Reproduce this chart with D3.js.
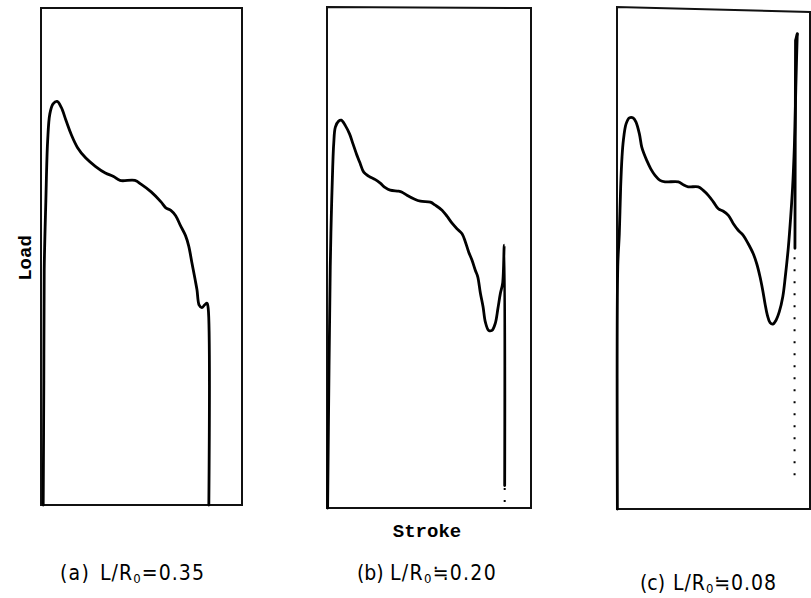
<!DOCTYPE html>
<html><head><meta charset="utf-8">
<script src="https://cdn.jsdelivr.net/npm/d3@7"></script>
<style>body{margin:0;background:#fff}svg{display:block}
.cap{font-family:'DejaVu Sans Condensed','DejaVu Sans',sans-serif;font-stretch:condensed;}
</style>
</head><body>
<svg id="chart" width="811" height="598"></svg>
<script>
// ---- data (stroke and load in % of each panel's full scale) ----
const panelIds = ["(a)", "(b)", "(c)"];
const ratioSigns = ["=", "≒", "≒"];
const ratioValues = ["0.35", "0.20", "0.08"];
const xLabel = "Stroke";
const yLabel = "Load";

const strokeA = [1.1,1.4,1.6,2.4,3.3,4.4,6.0,8.0,10.1,12.5,15.0,18.2,22.3,27.2,32.0,36.1,39.3,46.7,49.9,54.8,59.7,62.1,64.6,67.0,69.4,71.9,73.5,75.1,76.7,77.6,78.7,80.0,81.5,82.6,83.2,83.5];
const loadA   = [0,25,47.3,61.0,73.2,78.7,80.7,81.2,80.0,77.3,74.6,71.9,69.8,68.1,66.8,66.1,65.3,65.3,64.5,63.0,61.0,59.8,59.3,58.2,56.2,54.2,52.1,48.7,45.3,43.3,40.2,39.7,40.3,40.6,39.5,0];

const strokeB = [0.3,1.0,1.6,2.1,2.8,3.3,4.1,5.7,7.0,9.0,11.1,12.7,14.4,16.3,18.0,20.4,23.7,26.1,28.6,31.0,35.1,36.8,39.2,42.5,45.8,50.7,53.1,56.4,58.8,61.3,63.7,66.2,67.8,69.4,71.1,72.7,73.9,75.2,76.5,77.6,79.2,80.9,82.5,83.8,85.0,86.1,86.9,87.1];
const loadB   = [0,28.2,48.2,58.1,68.1,72.8,76.1,77.3,77.5,76.4,74.7,72.8,70.8,68.8,67.1,66.3,65.6,64.9,64.0,63.5,63.3,63.1,62.5,61.8,61.3,61.1,60.5,59.5,58.3,56.9,55.8,54.8,53.2,51.2,49.5,47.5,46.2,42.9,40.2,37.2,35.5,35.5,36.9,39.9,42.9,44.9,52.5,4.5];
const tailStrokeB = [87.1, 87.1];
const tailLoadB   = [4.0, 0];

const strokeC = [0.2,0.4,1.2,1.9,2.6,3.3,4.7,6.4,8.4,9.8,11.6,12.8,14.0,15.4,17.5,19.7,22.3,24.9,31.8,34.4,36.9,42.1,44.7,47.3,49.9,52.5,55.1,57.7,60.3,62.8,65.4,68.0,70.6,72.4,74.1,75.5,76.7,77.9,79.3,80.7,82.4,84.1,85.9,87.2,88.8,90.0,91.0,91.7,92.2,92.7,93.4];
const loadC   = [0,48.5,55.1,64.5,70.5,73.8,77.1,78.3,78.3,77.5,75.1,72.5,71.1,69.8,68.1,66.8,65.8,65.5,65.5,64.9,64.5,64.5,63.8,62.8,61.5,60.1,59.6,58.8,57.1,55.8,54.8,53.1,51.1,49.1,46.5,43.8,41.1,38.8,37.3,37.0,37.8,39.5,42.5,46.5,52.5,58.5,64.5,70.5,76.5,85.1,95.1];
const dropStrokeC = [93.4, 92.5, 92.2];
const dropLoadC   = [95.1, 93.8, 52.2];
const dotStrokeC  = [92.0, 92.0];
const dotLoadC    = [50.4, 5.8];

// ---- layout ----
const frames = [
  {x0: 41,  x1: 242, yl: 8, yr: 8, y1: 505},
  {x0: 327, x1: 531, yl: 7, yr: 8, y1: 508},
  {x0: 617, x1: 810, yl: 7, yr: 12, y1: 509}
];
const labelPos = [
  {idX: 60,  idEnd: 90,  ratX: 100, ratEnd: 205, y: 580},
  {idX: 357, idEnd: 383, ratX: 390, ratEnd: 497, y: 580},
  {idX: 640, idEnd: 664, ratX: 673, ratEnd: 777, y: 590}
];

const svg = d3.select("#chart");
const zip = (xs, ys) => xs.map((v, i) => [v, ys[i]]);
const series = [
  {main: zip(strokeA, loadA), extra: [], dotted: []},
  {main: zip(strokeB, loadB), extra: [], dotted: [zip(tailStrokeB, tailLoadB)]},
  {main: zip(strokeC, loadC), extra: [zip(dropStrokeC, dropLoadC)], dotted: [zip(dotStrokeC, dotLoadC)]}
];

frames.forEach((f, i) => {
  const top = (f.yl + f.yr) / 2;
  const x = d3.scaleLinear().domain([0, 100]).range([f.x0, f.x1]);
  const y = d3.scaleLinear().domain([0, 100]).range([f.y1, top]);
  const g = svg.append("g");
  g.append("path")
    .attr("d", `M${f.x0},${f.y1}L${f.x0},${f.yl}L${f.x1},${f.yr}L${f.x1},${f.y1}Z`)
    .attr("fill", "none").attr("stroke", "#111").attr("stroke-width", 2)
    .attr("stroke-linejoin", "miter");
  const smooth = d3.line().x(d => x(d[0])).y(d => y(d[1])).curve(d3.curveCatmullRom.alpha(0.5));
  const straight = d3.line().x(d => x(d[0])).y(d => y(d[1]));
  g.append("path").attr("d", smooth(series[i].main))
    .attr("fill", "none").attr("stroke", "#000").attr("stroke-width", 2.8)
    .attr("stroke-linejoin", "round").attr("stroke-linecap", "round");
  series[i].extra.forEach(s => g.append("path").attr("d", straight(s))
    .attr("fill", "none").attr("stroke", "#000").attr("stroke-width", 2.8).attr("stroke-linecap", "round"));
  series[i].dotted.forEach(s => g.append("path").attr("d", straight(s))
    .attr("fill", "none").attr("stroke", "#000").attr("stroke-width", 2)
    .attr("stroke-dasharray", "2,10"));

  // caption
  const lp = labelPos[i];
  const idT = svg.append("text").attr("class", "cap").attr("x", lp.idX).attr("y", lp.y)
    .attr("font-size", 21).attr("fill", "#000").text(panelIds[i]);
  const wi = idT.node().getComputedTextLength();
  idT.attr("letter-spacing", Math.max(0, (lp.idEnd - lp.idX - wi) / 3));
  const t = svg.append("text").attr("class", "cap").attr("x", lp.ratX).attr("y", lp.y)
    .attr("font-size", 21).attr("fill", "#000");
  t.append("tspan").text("L/R");
  t.append("tspan").attr("font-size", 13).attr("dy", 3).text("0");
  t.append("tspan").attr("dy", -3).text(ratioSigns[i] + ratioValues[i]);
  const w = t.node().getComputedTextLength();
  const n = ("L/R0" + ratioSigns[i] + ratioValues[i]).length;
  t.attr("letter-spacing", Math.max(0, (lp.ratEnd - lp.ratX - w) / n));
});

const monoFont = "'Liberation Mono','DejaVu Sans Mono',monospace";
svg.append("text").attr("x", 427).attr("y", 537)
  .attr("text-anchor", "middle").attr("font-family", monoFont)
  .attr("font-weight", "bold").attr("font-size", 19).text(xLabel);
svg.append("text").attr("transform", "translate(31,258) rotate(-90)")
  .attr("text-anchor", "middle").attr("font-family", monoFont)
  .attr("font-weight", "bold").attr("font-size", 19).text(yLabel);
</script>
</body></html>
